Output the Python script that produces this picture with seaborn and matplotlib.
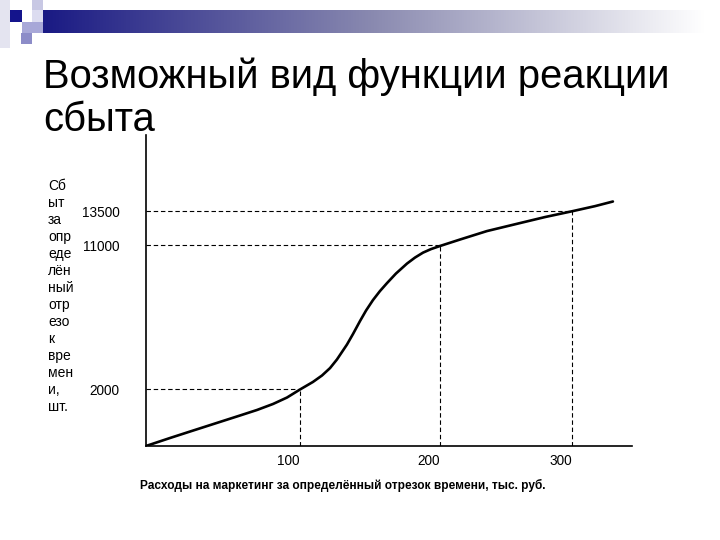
import numpy as np
import pandas as pd
import matplotlib
matplotlib.use("Agg")
import matplotlib.pyplot as plt
from matplotlib.patches import Rectangle
import seaborn as sns

# --- Data (schematic axis units) ---
spend = [0, 15.6, 28.6, 44.8, 61.0, 72.1, 82.5, 91.6, 100, 108.4, 114.3,
         119.5, 124.0, 130.5, 134.4, 139.0, 142.9, 147.4, 151.9, 156.5,
         162.3, 169.5, 174.7, 179.9, 185.1, 190.9, 203.9, 221.4, 242.9,
         259.1, 277.3, 291.6, 303.2]
sales = [0, 5.2, 9.4, 14.6, 19.8, 23.4, 27.3, 31.5, 36.7, 41.6, 45.8,
         50.6, 56.2, 65.9, 72.7, 81.2, 88.0, 94.8, 100.6, 105.8,
         112.0, 118.5, 122.4, 125.6, 127.9, 129.9, 134.1, 139.6, 144.8,
         148.7, 152.6, 155.8, 158.8]

spend_tick_pos = [100, 190.9, 276.6]
spend_tick_labels = ['100', '200', '300']
sales_tick_pos = [37.0, 130.5, 152.6]
sales_tick_labels = ['2000', '11000', '13500']

title = 'Возможный вид функции реакции\nсбыта'
ylabel_lines = ['Сб', 'ыт', 'за', 'опр', 'еде', 'лён', 'ный', 'отр',
                'езо', 'к', 'вре', 'мен', 'и,', 'шт.']
xlabel = 'Расходы на маркетинг за определённый отрезок времени, тыс. руб.'

df = pd.DataFrame({'spend': spend, 'sales': sales})

# --- Style ---
sns.set_style('white')
plt.rcParams['font.family'] = ['Liberation Sans', 'DejaVu Sans']

W, H = 720, 540
fig = plt.figure(figsize=(W / 100, H / 100), dpi=100)

# --- slide decoration (top-left squares + gradient bar) ---
def px_rect(x0, y0, x1, y1, color):
    fig.patches.append(Rectangle((x0 / W, 1 - y1 / H), (x1 - x0) / W, (y1 - y0) / H,
                                 transform=fig.transFigure, color=color, lw=0, zorder=0))

px_rect(0, 0, 10, 48, '#e4e4f0')
px_rect(32, 0, 43, 12, '#c8c8e4')
px_rect(22, 22, 43, 33, '#a8a8d8')
px_rect(21, 33, 32, 44, '#8c8cc8')
px_rect(32, 10, 43, 22, '#dcdcf0')
px_rect(10, 10, 22, 22, '#14148c')

bar = fig.add_axes([43 / W, 1 - 33 / H, (705 - 43) / W, 23 / H])
grad = np.linspace(0, 1, 256)[None, :]
cmap = matplotlib.colors.LinearSegmentedColormap.from_list('bar', ['#1a1a84', '#8a8ab0', '#ffffff'])
bar.imshow(grad, aspect='auto', cmap=cmap)
bar.axis('off')

# --- title ---
fig.text(43 / W, 1 - 58 / H, title, fontsize=28.8, va='top', ha='left',
         linespacing=1.16, color='black')

# --- main axes ---
ax = fig.add_axes([146 / W, 1 - 446 / H, (632 - 146) / W, (446 - 135) / H])
sns.lineplot(data=df, x='spend', y='sales', ax=ax, color='black', linewidth=1.9,
             estimator=None, sort=False, solid_joinstyle='round', solid_capstyle='round')

# dashed guides from curve points to axes
for gx, gy in zip(spend_tick_pos, sales_tick_pos):
    ax.plot([0, gx], [gy, gy], color='black', lw=0.8, ls=(0, (4, 2.5)))
    ax.plot([gx, gx], [0, gy], color='black', lw=0.8, ls=(0, (4, 2.5)))

ax.set_xlim(0, 315.6)
ax.set_ylim(0, 202)
for s in ['top', 'right']:
    ax.spines[s].set_visible(False)
for s in ['left', 'bottom']:
    ax.spines[s].set_color('black')
    ax.spines[s].set_linewidth(1.2)

ax.set_xticks(spend_tick_pos, spend_tick_labels)
ax.set_yticks(sales_tick_pos, sales_tick_labels)
ax.tick_params(axis='both', length=0, labelsize=9.8, colors='black')
ax.tick_params(axis='x', pad=6)
ax.tick_params(axis='y', pad=19)
for lbl in ax.get_xticklabels():
    lbl.set_ha('right')
ax.set_xlabel('')
ax.set_ylabel('')

# stacked y label on the left
fig.text(48 / W, 1 - 179 / H, '\n'.join(ylabel_lines), fontsize=10, va='top', ha='left',
         linespacing=1.27, color='black')

# x label below
fig.text(140 / W, 1 - 485 / H, xlabel, fontsize=8.6, fontweight='bold', va='center',
         ha='left', color='black')

fig.savefig('out.png', dpi=100)
